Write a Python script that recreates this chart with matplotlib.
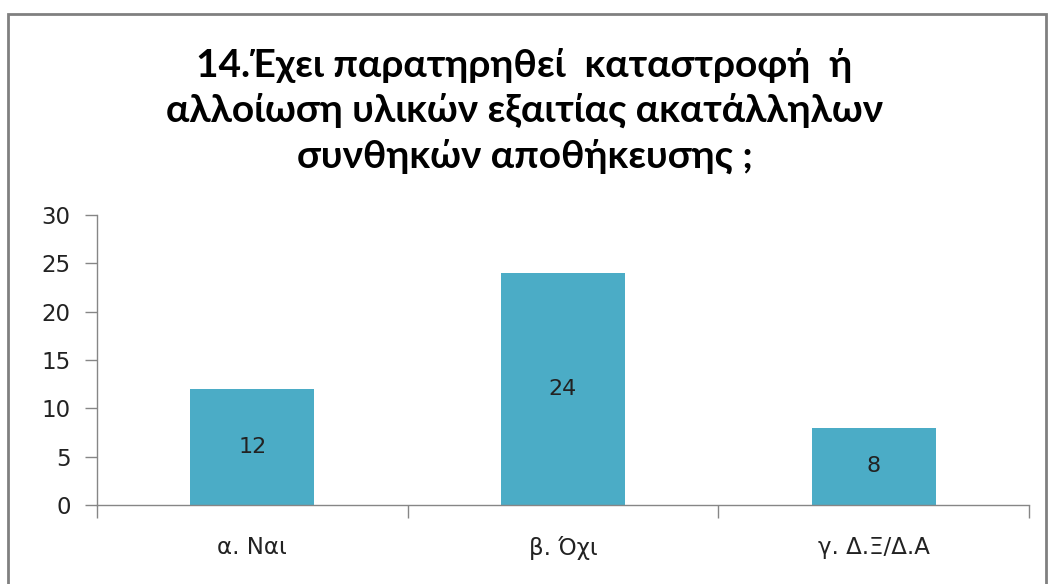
import matplotlib
matplotlib.use("Agg")
import matplotlib.pyplot as plt
from matplotlib.patches import Rectangle

categories = ["α. Ναι", "β. Όχι", "γ. Δ.Ξ/Δ.Α"]
values = [12, 24, 8]
yticks = [0, 5, 10, 15, 20, 25, 30]
title = "14.Έχει παρατηρηθεί  καταστροφή  ή\nαλλοίωση υλικών εξαιτίας ακατάλληλων\nσυνθηκών αποθήκευσης ;"

W, H = 1049, 584
fig = plt.figure(figsize=(W / 100, H / 100), dpi=100)
fig.patch.set_facecolor("white")

# outer chart frame
fig.add_artist(Rectangle((8 / W, -0.05), (1046 - 8) / W, (H - 14) / H + 0.05,
                         transform=fig.transFigure, fill=False,
                         edgecolor="#808080", linewidth=2))

ax_l, ax_r, ax_t, ax_b = 97, 1029, 215, 505
ax = fig.add_axes([ax_l / W, 1 - ax_b / H, (ax_r - ax_l) / W, (ax_b - ax_t) / H])

x = list(range(len(categories)))
bars = ax.bar(x, values, width=0.4, color="#4BACC6", edgecolor="none", zorder=2)
ax.set_xlim(-0.5, len(categories) - 0.5)
ax.set_ylim(0, 30)
ax.set_yticks(yticks)
ax.set_yticklabels([str(t) for t in yticks], fontsize=16.5, color="#222222",
                   family="DejaVu Sans")

ax.set_xticks(x)
ax.set_xticklabels(categories, fontsize=16.5, color="#222222", family="DejaVu Sans")
ax.tick_params(axis="x", length=0, pad=22)
ax.set_xticks([i - 0.5 for i in range(len(categories) + 1)], minor=True)
ax.tick_params(axis="x", which="minor", length=9, direction="out", color="#868686", width=1)
ax.tick_params(axis="y", length=9, direction="out", color="#868686", width=1, pad=10)

for s in ["top", "right"]:
    ax.spines[s].set_visible(False)
for s in ["left", "bottom"]:
    ax.spines[s].set_color("#868686")
    ax.spines[s].set_linewidth(1)

for b, v in zip(bars, values):
    ax.text(b.get_x() + b.get_width() / 2, v / 2, str(v), ha="center", va="center",
            fontsize=16, color="#222222", family="DejaVu Sans")

fig.text(0.5, 1 - 111 / H, title, ha="center", va="center", fontsize=28,
         fontweight="bold", family="Lato", linespacing=1.35, color="#000000")

fig.savefig("out.png", dpi=100)
